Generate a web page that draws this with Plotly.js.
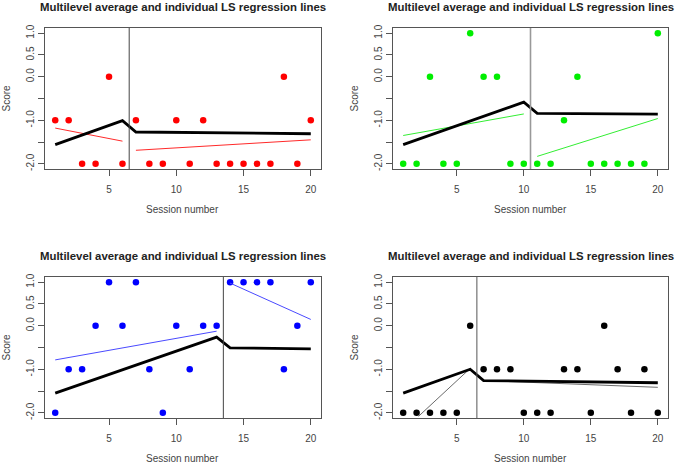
<!DOCTYPE html>
<html>
<head>
<meta charset="utf-8">
<script src="https://cdn.plot.ly/plotly-3.0.1.min.js"></script>
<style>html,body{margin:0;padding:0;background:#fff}#chart{width:677px;height:463px}</style>
</head>
<body>
<div id="chart"></div>
<script>
// ---- data ----
const sessions = [1,2,3,4,5,6,7,8,9,10,11,12,13,14,15,16,17,18,19,20];

const scoresRed   = [-1,-1,-2,-2,0,-2,-1,-2,-2,-1,-2,-1,-2,-2,-2,-2,-2,0,-2,-1];
const scoresGreen = [-2,-2,0,-2,-2,1,0,0,-2,-2,-2,-2,-1,0,-2,-2,-2,-2,-2,1];
const scoresBlue  = [-2,-1,-1,0,1,0,1,-1,-2,0,-1,0,0,1,1,1,1,-1,0,1];
const scoresBlack = [-2,-2,-2,-2,-2,0,-1,-1,-1,-2,-2,-2,-1,-1,-2,0,-1,-2,-1,-2];

const phaseBreak = [6.5, 10.5, 13.5, 6.5];

// multilevel average (black polyline)
const avgX1 = [1, 6, 7, 20],   avgY1 = [-1.56, -1.01, -1.27, -1.31];
const avgX2 = [1, 10, 11, 20], avgY2 = [-1.56, -0.585, -0.84, -0.86];
const avgX3 = [1, 13, 14, 20], avgY3 = [-1.55, -0.26, -0.51, -0.53];
const avgX4 = [1, 6, 7, 20],   avgY4 = [-1.55, -1.0, -1.26, -1.31];

// individual LS regression lines (phase A, phase B)
const lsAX1 = [1, 6],     lsAY1 = [-1.18, -1.48];
const lsBX1 = [7, 20],    lsBY1 = [-1.69, -1.45];
const lsAX2 = [1, 10],    lsAY2 = [-1.35, -0.855];
const lsBX2 = [11, 20],   lsBY2 = [-1.83, -0.96];
const lsAX3 = [1, 13],    lsAY3 = [-0.785, -0.125];
const lsBX3 = [14, 20],   lsBY3 = [0.98, 0.145];
const lsAX4 = [2.15, 6],  lsAY4 = [-2.08, -0.98];
const lsBX4 = [7, 20],    lsBY4 = [-1.26, -1.415];

const titleText = "Multilevel average and individual LS regression lines";
const xLabel = "Session number";
const yLabel = "Score";
const xTicks = [5, 10, 15, 20];
const yTickVals = [-2, -1.5, -1, -0.5, 0, 0.5, 1];
const yTickText = ["-2.0", "", "-1.0", "", "0.0", "0.5", "1.0"];

// ---- build ----
const W = 677, H = 463;
const boxes = [
  {l: 45,  r: 321, t: 28,  b: 169},
  {l: 393, r: 668, t: 28,  b: 169},
  {l: 45,  r: 321, t: 277, b: 418},
  {l: 393, r: 668, t: 277, b: 418}
];
const panels = [
  {pts: scoresRed,   col: "#ff0000", lcol: "#ff2a2a", avgX: avgX1, avgY: avgY1, ls: [[lsAX1, lsAY1], [lsBX1, lsBY1]], vcol: "#444", vw: 1},
  {pts: scoresGreen, col: "#00ee00", lcol: "#33ee33", avgX: avgX2, avgY: avgY2, ls: [[lsAX2, lsAY2], [lsBX2, lsBY2]], vcol: "#999", vw: 1.6},
  {pts: scoresBlue,  col: "#0000ff", lcol: "#4a4aff", avgX: avgX3, avgY: avgY3, ls: [[lsAX3, lsAY3], [lsBX3, lsBY3]], vcol: "#444", vw: 1},
  {pts: scoresBlack, col: "#000000", lcol: "#6a6a6a", avgX: avgX4, avgY: avgY4, ls: [[lsAX4, lsAY4], [lsBX4, lsBY4]], vcol: "#555", vw: 1}
];

const traces = [];
const layout = {
  width: W, height: H,
  margin: {l: 0, r: 0, t: 0, b: 0},
  paper_bgcolor: "#fff", plot_bgcolor: "#fff",
  showlegend: false,
  font: {family: "Liberation Sans, Arial, sans-serif", size: 10, color: "#444"},
  annotations: [], shapes: []
};

panels.forEach((p, i) => {
  const n = i + 1;
  const xa = n === 1 ? "x" : "x" + n;
  const ya = n === 1 ? "y" : "y" + n;
  const b = boxes[i];
  traces.push({type: "scatter", mode: "markers", x: sessions, y: p.pts, xaxis: xa, yaxis: ya,
    marker: {color: p.col, size: 6.5}, hoverinfo: "skip"});
  p.ls.forEach(seg => {
    traces.push({type: "scatter", mode: "lines", x: seg[0], y: seg[1], xaxis: xa, yaxis: ya,
      line: {color: p.lcol, width: 1}, hoverinfo: "skip"});
  });
  traces.push({type: "scatter", mode: "lines", x: p.avgX, y: p.avgY, xaxis: xa, yaxis: ya,
    line: {color: "#000", width: 2.8}, hoverinfo: "skip"});

  const axCommon = {showgrid: false, zeroline: false, showline: true, mirror: true,
    linecolor: "#555", linewidth: 1, ticks: "outside", ticklen: 6, tickcolor: "#555",
    tickfont: {size: 10, color: "#444"}, fixedrange: true};
  layout[n === 1 ? "xaxis" : "xaxis" + n] = Object.assign({}, axCommon, {
    domain: [b.l / W, b.r / W], anchor: ya, range: [0.24, 20.76],
    tickmode: "array", tickvals: xTicks, ticktext: xTicks.map(String), ticklabelstandoff: 5
  });
  layout[n === 1 ? "yaxis" : "yaxis" + n] = Object.assign({}, axCommon, {
    domain: [1 - b.b / H, 1 - b.t / H], anchor: xa, range: [-2.12, 1.12],
    tickmode: "array", tickvals: yTickVals, ticktext: yTickText, tickangle: -90
  });
  layout.shapes.push({type: "line", xref: xa, yref: ya + " domain", x0: phaseBreak[i], x1: phaseBreak[i], y0: 0, y1: 1,
    line: {color: p.vcol, width: p.vw}});
  const cx = (b.l + b.r) / 2;
  layout.annotations.push({text: "<b>" + titleText + "</b>", xref: "paper", yref: "paper",
    x: cx / W, y: 1 - (b.t - 21) / H, xanchor: "center", yanchor: "middle", showarrow: false,
    font: {size: 11.4, color: "#222"}});
  layout.annotations.push({text: xLabel, xref: "paper", yref: "paper",
    x: cx / W, y: 1 - (b.b + 40) / H, xanchor: "center", yanchor: "middle", showarrow: false,
    font: {size: 10, color: "#444"}});
  layout.annotations.push({text: yLabel, xref: "paper", yref: "paper", textangle: -90,
    x: (b.l - 39) / W, y: 1 - ((b.t + b.b) / 2) / H, xanchor: "center", yanchor: "middle", showarrow: false,
    font: {size: 10, color: "#444"}});
});

Plotly.newPlot("chart", traces, layout, {staticPlot: true, displayModeBar: false});
</script>
</body>
</html>
